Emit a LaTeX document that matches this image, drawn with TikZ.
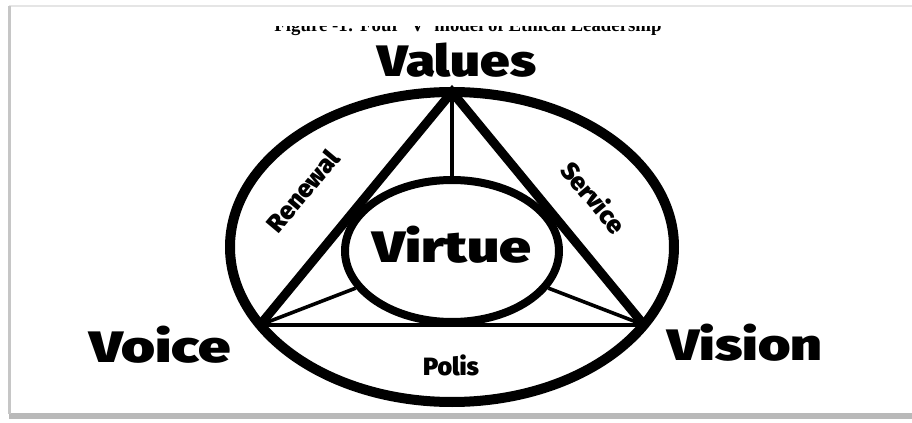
\documentclass[tikz,border=0pt]{standalone}
\usepackage{fontspec}
\newfontfamily\heavyfont{Fira Sans Black}
\newfontfamily\titlefont{Liberation Serif}
\usetikzlibrary{shapes.geometric}
\begin{document}
\begin{tikzpicture}  % ------ Four V model of ethical leadership -------
      [x=0.5pt, y=-0.5pt,
       bigword/.style={font=\heavyfont\fontsize{22}{22}\selectfont, inner sep=0pt, anchor=base, xscale=1.2, transform shape},
       smallword/.style={font=\heavyfont\fontsize{12.5}{12.5}\selectfont, inner sep=0pt, anchor=base},
       side/.style={line width=4.5pt, line cap=round},
       spoke/.style={line width=1.8pt}]
    \useasboundingbox (0,0) rectangle (912,423);
    % frame with shadow
    \fill[gray!55] (9,413) rectangle (912,419);
    \draw[gray!20, line width=1pt] (9,6) -- (912,6);
    \draw[gray!45, line width=1.5pt] (9,6) -- (9,414);

    \coordinate (top) at (452,92);
    \coordinate (left) at (260,325);
    \coordinate (right) at (644,325);

    \draw[line width=5pt] (452,247) ellipse [x radius=111pt, y radius=77.5pt];  % outer
    \node[draw, ellipse, line width=4pt, minimum width=107pt, minimum height=71pt, inner sep=0pt] (virtue) at (452,251) {};

    \draw[side] (left) -- (top) -- (right);
    \draw[line width=2pt] (left) -- (right);
    \draw[spoke] (top) -- (virtue);
    \draw[spoke] (left) -- (virtue);
    \draw[spoke] (right) -- (virtue);

    \begin{scope}
      \clip (0,26) rectangle (912,60);
      \node[font=\titlefont\bfseries\fontsize{9.4}{9.4}\selectfont, inner sep=0pt, anchor=base] (title) at (468,32) {Figure -1: Four `V' model of Ethical Leadership};
    \end{scope}

    \node[bigword] (values) at (457,76) {Values};
    \node[bigword, xscale=1.08] (virtuetext) at (452,262) {Virtue};
    \node[bigword, xscale=1.1] (voice) at (160,362) {Voice};
    \node[bigword, xscale=1.05] (vision) at (745,360) {Vision};
    \node[smallword] (polis) at (451,375) {Polis};
    \node[smallword, anchor=center, rotate=50] (renewal) at (303,191) {Renewal};
    \node[smallword, anchor=center, rotate=-50] (service) at (594,197) {Service};
\end{tikzpicture}
\end{document}
